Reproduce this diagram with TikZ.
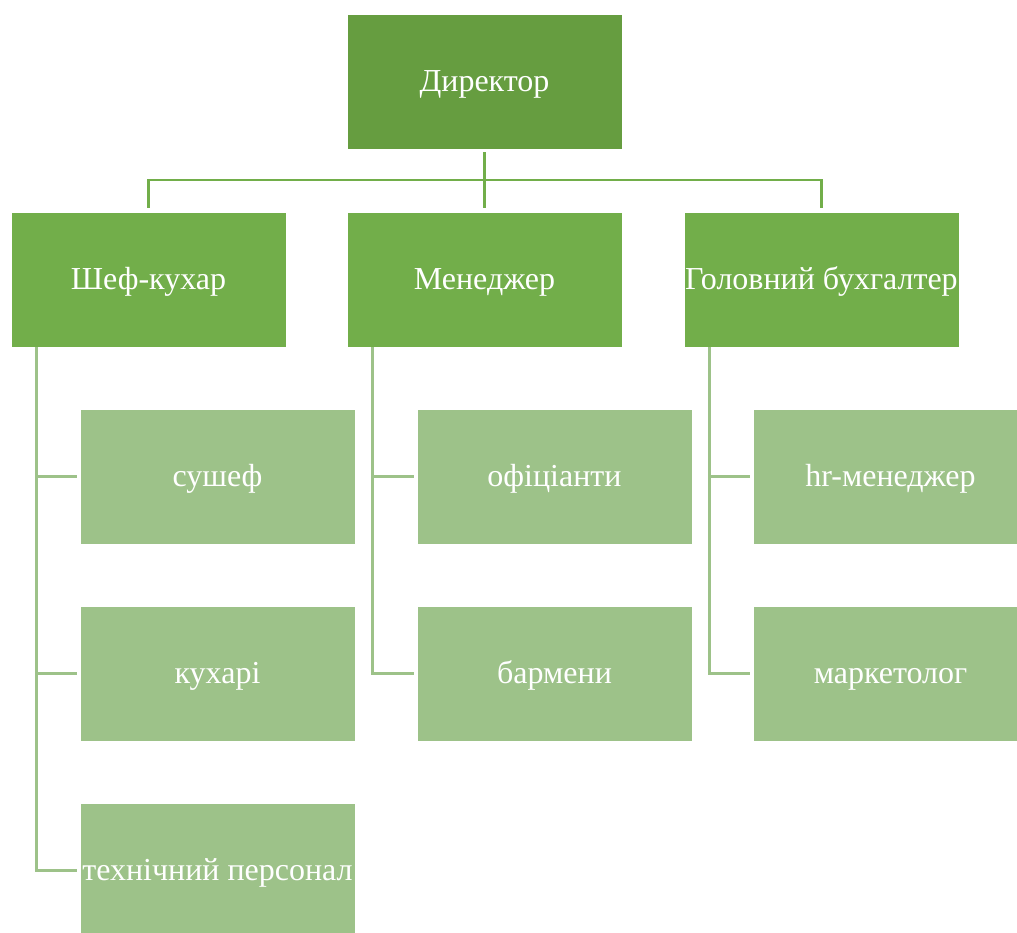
\documentclass[tikz,border=0pt]{standalone}
\usepackage{fontspec}
\setmainfont{Liberation Serif}
\usetikzlibrary{calc}
\definecolor{gTop}{RGB}{102,157,64}
\definecolor{gMid}{RGB}{114,174,74}
\definecolor{gLow}{RGB}{157,194,137}
\begin{document}
\begin{tikzpicture}[x=0.75pt,y=-0.75pt,
  box/.style={rectangle,draw=white,line width=0.6pt,inner sep=0pt,
    minimum width=206.25pt,minimum height=101.25pt,text=white,
    text height=16.5pt,text depth=1.5pt,
    font=\fontsize{24}{28}\selectfont},
  topbox/.style={box,fill=gTop},
  midbox/.style={box,fill=gMid},
  lowbox/.style={box,fill=gLow},
  upconn/.style={draw=gMid,line width=2.2pt},
  lowconn/.style={draw=gLow,line width=2.2pt}]
\clip (0,0) rectangle (1017,932);
\fill[white] (0,0) rectangle (1017,932);
% level 1
\node[topbox] (dir) at (484.5,81.5) {Директор};
% level 2
\node[midbox] (chef) at (148.5,279.5) {Шеф-кухар};
\node[midbox] (mgr) at (484.5,279.5) {Менеджер};
\node[midbox] (acc) at (821.5,279.5) {Головний бухгалтер};
% level 3
\node[lowbox] (sous) at (217.5,476.5) {сушеф};
\node[lowbox] (cooks) at (217.5,673.5) {кухарі};
\node[lowbox] (tech) at (217.5,870.5) {технічний персонал};
\node[lowbox] (wait) at (554.5,476.5) {офіціанти};
\node[lowbox] (bar) at (554.5,673.5) {бармени};
\node[lowbox] (hr) at (890.5,476.5) {hr-менеджер};
\node[lowbox] (mkt) at (890.5,673.5) {маркетолог};
% upper connectors
\coordinate (bus) at (484.5,180);
\draw[upconn] ($(dir.south)+(0,3)$) -- (bus);
\draw[upconn] (bus) -| ($(chef.north)+(0,-4)$);
\draw[upconn] (bus) -- ($(mgr.north)+(0,-4)$);
\draw[upconn] (bus) -| ($(acc.north)+(0,-4)$);
% lower connectors
\draw[lowconn] ($(chef.south west)+(26,3)$) |- ($(tech.west)+(-3,0)$);
\draw[lowconn] ($(chef.south west)+(26,0)$) |- ($(sous.west)+(-3,0)$);
\draw[lowconn] ($(chef.south west)+(26,0)$) |- ($(cooks.west)+(-3,0)$);
\draw[lowconn] ($(mgr.south west)+(26,3)$) |- ($(bar.west)+(-3,0)$);
\draw[lowconn] ($(mgr.south west)+(26,0)$) |- ($(wait.west)+(-3,0)$);
\draw[lowconn] ($(acc.south west)+(26,3)$) |- ($(mkt.west)+(-3,0)$);
\draw[lowconn] ($(acc.south west)+(26,0)$) |- ($(hr.west)+(-3,0)$);
\end{tikzpicture}
\end{document}
